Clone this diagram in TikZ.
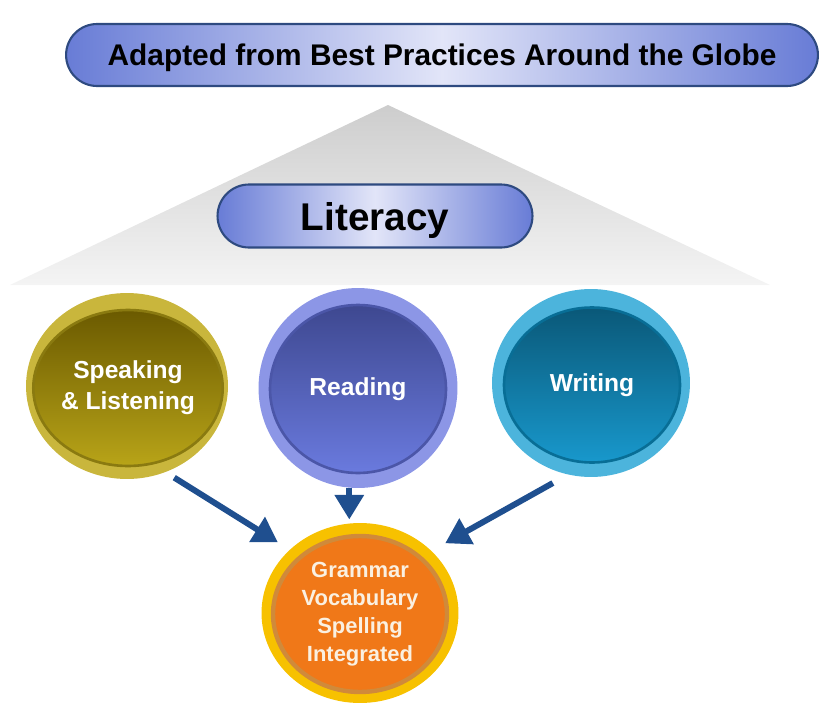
\documentclass[tikz,border=0pt]{standalone}
\usepackage{fontspec}
\setmainfont{Liberation Sans}
\usetikzlibrary{arrows.meta,shapes.geometric,shapes.misc}
\definecolor{navy}{RGB}{46,74,128}
\definecolor{pillblue}{RGB}{104,124,214}
\definecolor{pilllight}{RGB}{226,229,248}
\definecolor{trigray}{RGB}{205,205,205}
\definecolor{trilight}{RGB}{244,244,244}
\definecolor{arrowblue}{RGB}{31,79,143}
\definecolor{olivering}{RGB}{201,182,60}
\definecolor{olivetop}{RGB}{107,90,0}
\definecolor{olivebot}{RGB}{184,164,24}
\definecolor{oliveedge}{RGB}{138,122,16}
\definecolor{violetring}{RGB}{140,150,230}
\definecolor{violettop}{RGB}{62,72,144}
\definecolor{violetbot}{RGB}{106,122,222}
\definecolor{violetedge}{RGB}{75,86,168}
\definecolor{skyring}{RGB}{76,180,220}
\definecolor{skytop}{RGB}{10,88,120}
\definecolor{skybot}{RGB}{24,152,204}
\definecolor{skyedge}{RGB}{8,110,150}
\definecolor{goldring}{RGB}{247,193,0}
\definecolor{orangein}{RGB}{240,120,24}
\definecolor{orangeedge}{RGB}{208,138,58}

\begin{document}
\begin{tikzpicture}[x=0.02cm,y=-0.02cm,
    pill/.style={rounded rectangle,draw=navy,line width=1.2pt,left color=pillblue,right color=pillblue,middle color=pilllight,inner sep=0pt,text depth=0pt},
    ring/.style={ellipse,inner sep=0pt,outer sep=0pt},
    disk/.style={ellipse,inner sep=0pt,line width=1.5pt,align=center,text=white,font=\bfseries\fontsize{14}{17.5}\selectfont},
    arr/.style={-{Triangle[length=14pt,width=16pt]},line width=3.4pt,draw=arrowblue}]
    \useasboundingbox (0,0) rectangle (828,720);

    % Background triangle
    \shade[top color=trigray,bottom color=trilight] (388,105) -- (770,285) -- (10,285) -- cycle;

    % Banners
    \node[pill,minimum width=15.04cm,minimum height=1.24cm,font=\bfseries\fontsize{17}{20}\selectfont] (globe) at (442,55) {Adapted from Best Practices Around the Globe};
    \node[pill,minimum width=6.3cm,minimum height=1.26cm,font=\bfseries\fontsize{22}{26}\selectfont] (lit) at (375,216) {Literacy};

    % Three circles
    \node[ring,fill=olivering,minimum width=4.04cm,minimum height=3.72cm] (spk) at (127,386) {};
    \node[disk,draw=oliveedge,top color=olivetop,bottom color=olivebot,minimum width=3.48cm,minimum height=3.12cm] (spkin) at (128,388) {Speaking\\\& Listening};

    \node[ring,fill=violetring,minimum width=3.98cm,minimum height=4.0cm] (read) at (358,388) {};
    \node[disk,draw=violetedge,top color=violettop,bottom color=violetbot,minimum width=3.52cm,minimum height=3.36cm] (readin) at (358,389) {Reading};

    \node[ring,fill=skyring,minimum width=3.96cm,minimum height=3.76cm] (wri) at (591,383) {};
    \node[disk,draw=skyedge,top color=skytop,bottom color=skybot,minimum width=3.52cm,minimum height=3.1cm] (wriin) at (592,385) {Writing};

    % Bottom circle
    \node[ring,fill=goldring,minimum width=3.94cm,minimum height=3.6cm] (gram) at (360,613) {};
    \node[disk,draw=orangeedge,line width=2.5pt,fill=orangein,text={rgb,255:red,250;green,240;blue,225},font=\bfseries\fontsize{12.5}{16}\selectfont,minimum width=3.48cm,minimum height=3.12cm] (gramin) at (360,614) {Grammar\\Vocabulary\\Spelling\\Integrated};

    % Arrows
    \draw[arr,shorten <=6pt,shorten >=8pt] (spk.-66) -- (gram.138);
    \draw[arr] (read.-95) -- ([yshift=2pt]read.-95 |- gram.north);
    \draw[arr,shorten <=10pt,shorten >=9pt] (wri.-104) -- (gram.41);
\end{tikzpicture}
\end{document}
